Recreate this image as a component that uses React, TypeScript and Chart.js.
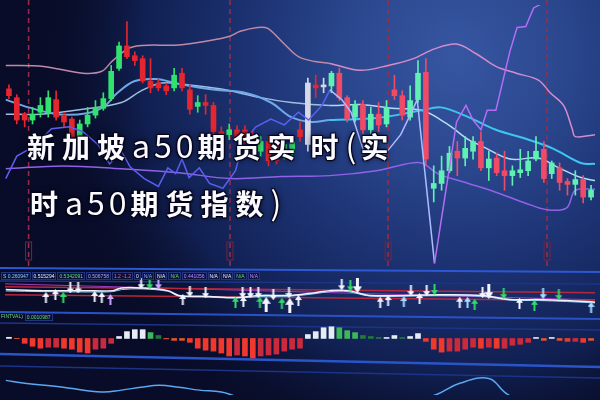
import React, { useEffect, useRef } from 'react';
import { Chart, registerables } from 'chart.js';

Chart.register(...registerables);

const W = 600;
const H = 400;

// ---------- candles (points) ----------
const candleOpen = [
  314, 305, 288, 282, 290, 290, 303, 287, 283, 265,
  278, 287, 294, 304, 335, 358, 348, 345, 322, 320,
  317, 315, 330, 313, 296, 300, 297, 270, 267, 272,
  272, 267, 250, 260, 257, 247, 248, 272, 257, 318,
  316, 317, 330, 305, 285, 298, 272, 288, 278, 313,
  307, 285, 303, 331, 212, 217, 230, 250, 243, 250,
  260, 233, 243, 230, 225, 228, 230, 242, 252, 227,
  233, 219, 216, 221, 203,
];
const candleHigh = [
  318, 308, 290, 295, 305, 312, 312, 290, 285, 282,
  295, 302, 310, 338, 362, 383, 352, 348, 345, 324,
  320, 335, 335, 318, 307, 308, 300, 275, 278, 276,
  276, 272, 265, 265, 262, 262, 265, 280, 325, 328,
  325, 332, 335, 307, 302, 302, 295, 300, 302, 328,
  312, 317, 343, 345, 235, 245, 255, 260, 265, 265,
  270, 250, 248, 250, 235, 252, 250, 265, 260, 240,
  238, 222, 230, 225, 215,
];
const candleLow = [
  304, 278, 275, 278, 285, 285, 282, 275, 262, 262,
  275, 284, 292, 302, 333, 345, 338, 320, 310, 312,
  308, 312, 312, 288, 290, 288, 265, 260, 262, 260,
  258, 252, 245, 235, 237, 242, 242, 260, 250, 305,
  310, 310, 302, 280, 280, 268, 268, 270, 275, 303,
  282, 282, 300, 235, 198, 210, 228, 225, 235, 242,
  230, 220, 225, 210, 215, 223, 225, 240, 218, 222,
  210, 205, 205, 197, 200,
];
const candleClose = [
  307, 282, 282, 288, 297, 305, 285, 280, 265, 278,
  287, 295, 304, 332, 358, 347, 343, 322, 315, 315,
  312, 328, 315, 293, 300, 297, 270, 265, 272, 265,
  263, 257, 260, 240, 240, 257, 260, 265, 320, 315,
  318, 330, 305, 283, 298, 272, 288, 277, 295, 307,
  287, 302, 330, 242, 217, 230, 248, 243, 253, 260,
  233, 242, 228, 225, 230, 231, 240, 250, 222, 238,
  218, 216, 221, 203, 210,
];
const greyCandles = [38, 40];

// ---------- overlay lines on price panel: [candle index, points] ----------
const upperBand: [number, number][] = [
  [-0.4, 338], [4.4, 337], [9.4, 330], [11.8, 332], [13.2, 343], [15.7, 357], [21.6, 359],
  [25.1, 363], [28.1, 368], [29.4, 373], [31.6, 377], [32.9, 376], [35, 360], [36.8, 347],
  [38.9, 342], [40.8, 340], [44.6, 333], [48.2, 338], [51.4, 345], [54.1, 355], [56.9, 360],
  [59.4, 350], [61.9, 337], [64.5, 330], [67.3, 323], [68.8, 310], [70.5, 297], [71.6, 273],
  [72, 265], [74.5, 267],
];
const fastAvg: [number, number][] = [
  [-0.4, 303], [2.5, 295], [6.2, 288], [9.9, 289], [12.1, 296], [13.8, 310], [16, 322],
  [18.7, 324], [21.6, 319], [26.2, 313], [30, 310], [33.3, 300], [35.9, 285], [38.5, 280],
  [40.8, 282], [46.7, 284], [52.5, 292], [54.9, 295], [58.4, 285], [61.9, 272], [65.6, 263],
  [69.1, 253], [72.7, 238], [74.5, 237],
];
const slowAvg: [number, number][] = [
  [-0.4, 288], [4, 288], [9.4, 293], [14.3, 300], [16.8, 312], [19.4, 320], [22.9, 318],
  [26.8, 314], [32, 305], [35.9, 300], [40.8, 297], [44.7, 298], [48.7, 294], [52.5, 292],
  [55.7, 278], [58.4, 262], [60.2, 255], [63.7, 242], [67.3, 243], [69.9, 233], [72.7, 223],
  [74.5, 220],
];
const lowerBand: [number, number][] = [
  [-0.4, 232], [6.9, 235], [14.3, 232], [21.6, 228], [28.1, 222], [34.6, 224], [40.8, 225],
  [46.7, 230], [50.5, 237], [52.5, 238], [54.5, 227], [58.4, 217], [61.9, 208], [65.6, 197],
  [68.4, 190], [70.9, 192], [72, 210], [74.5, 211],
];
const swingLine: [number, number][] = [
  [-0.4, 222], [1, 245], [3.2, 255], [5.4, 273], [7.7, 275], [9.4, 270], [11.3, 257],
  [12.8, 237], [14.3, 250], [15.4, 234], [17.2, 222], [19, 214], [20.2, 233], [21.2, 227],
  [22, 242], [22.9, 223], [24.2, 233], [25.5, 217], [27.2, 212], [28.8, 230], [29.8, 260],
  [31.4, 275], [33.3, 283], [35, 277], [36.8, 290], [38.1, 282], [39.8, 297], [40.8, 313],
  [42.3, 303], [43.5, 290], [45.1, 250], [46.7, 245], [47.8, 247], [49.8, 267], [51, 287],
  [51.9, 303], [54.1, 135], [56.9, 280], [58.1, 297], [59, 282], [60, 272], [60.8, 292],
  [61.9, 292], [63.7, 353], [64.6, 377], [65.7, 378], [66.7, 397], [68.6, 405],
];
const sessionMarks = [2.5, 28.1, 48.2, 68.4];

// ---------- indicator panel ----------
const indX = [-0.4, 4.4, 9.4, 13.2, 14.3, 16.8, 20.2, 21.6, 25.5, 28.8, 32, 35.9, 38.9, 40.8, 43.1, 45.9, 50.6, 54.6, 60.2, 63.7, 67.3, 70.9, 74.5];
const indK = [66, 63, 63, 63, 71, 71, 63, 49, 46, 43, 49, 49, 57, 63, 63, 49, 49, 51, 49, 37, 37, 34, 29];
const indD = [62, 60, 59, 60, 66, 68, 61, 47, 44, 41, 46, 47, 54, 60, 60, 47, 47, 48, 46, 35, 34, 31, 27];
const levelHigh = [74, 57];
const levelLow = [51, 34];
const levelMid = [83, 36];

const arrowX = [4.7, 5.9, 6.9, 7.8, 8.8, 10.9, 11.8, 12.9, 16.8, 17.9, 19, 22.1, 23, 25, 28.8, 29.7, 29.8, 30.7, 31.7, 31.9, 32.7, 33.6, 34.7, 35.6, 35.7, 36.8, 42.3, 43.4, 44.3, 47.2, 48.2, 50.2, 51.1, 52.2, 53.1, 54.1, 57.3, 58.3, 59.2, 60.2, 61, 62.9, 64.9, 66.8, 67.9, 69.9, 74];
const arrowV = [43, 51, 43, 71, 71, 46, 43, 37, 83, 83, 83, 37, 60, 57, 29, 57, 31, 57, 57, 29, 23, 51, 26, 57, 20, 34, 80, 77, 77, 29, 34, 31, 63, 40, 63, 66, 29, 29, 23, 57, 60, 54, 26, 20, 54, 51, 14];
const arrowKind = ['uw', 'uw', 'ug', 'dw', 'dw', 'uw', 'uw', 'up', 'dw', 'dg', 'dp', 'uw', 'dw', 'dw', 'ug', 'dw', 'uw', 'dw', 'dw', 'ug', 'UW', 'dw', 'ug', 'dw', 'UW', 'uw', 'dw', 'dg', 'DW', 'uw', 'uw', 'ub', 'dw', 'uw', 'dw', 'dg', 'uw', 'ub', 'ug', 'dw', 'DW', 'dg', 'uw', 'ug', 'db', 'dg', 'ub'];

// ---------- histogram ----------
const histValues = [
  1.2, -0.3, -5, -8, -10, -9, -9, -10, -11, -14,
  -15, -11, -10, -5, 2, 7, 9, 9, 6, 3,
  -0.5, -2, -2, -4, -10, -12, -13, -15, -18, -17,
  -18, -20, -18, -17, -16, -13, -11, -10, 4, 7,
  11, 12, 11, 8, 6, 3, 2, 1, 1, 3,
  1, 2, 5, -3, -11, -14, -13, -13, -11, -9,
  -10, -9, -10, -10, -7, -6, -4, 1, -2, 1,
  -2, -3, -3, -4, -2,
];

// ---------- bottom curve ----------
const bottomX = [-0.4, 2, 6.9, 11.8, 14.3, 16.8, 19.1, 21.6, 24.2, 27, 29, 31, 50, 54.2, 57.3, 61, 63, 64.5];
const bottomV = [15, 12, 8, 3, 5, 8, 10, 8, 5, 3, -2, -8, -8, 0, 12, 17, 3, -5];

// ---------- labels ----------
const readoutTexts = ['S 0.260947', '0.515294', '0.5342091', '0.506758', '1.2 -1.2', '0', 'N/A', 'N/A', 'N/A', '0.441056', 'N/A', 'N/A', 'N/A', 'N/A'];
const readoutColors = ['#8fd0ff', '#eef2ff', '#5fe06a', '#b9a8ff', '#ff6a6a', '#eef2ff', '#7fa8ff', '#eef2ff', '#5fe06a', '#b98cff', '#eef2ff', '#eef2ff', '#5fe06a', '#b98cff'];
const subReadout = ['FINTVAL)', '0.0010987'];
// title pieces: [text, isLatin]
const titleLine1: [string, boolean][] = [['新加坡', false], ['a50', true], ['期货实', false], ['时', false], ['(', true], ['实', false]];
const titleLine2: [string, boolean][] = [['时', false], ['a50', true], ['期货指数', false], [')', true]];

// maps value range [loVal,hiVal] onto pixel rows [loPx (bottom), hiPx (top)]
function band(loVal: number, hiVal: number, loPx: number, hiPx: number) {
  const k = (hiVal - loVal) / (loPx - hiPx);
  return { min: loVal - (H - loPx) * k, max: hiVal + hiPx * k };
}

const panelRules: [number, number, string, number][] = [
  [268, 272, '#2c58d4', 2],
  [281, 284, '#1b3488', 1.5],
  [312, 319, '#2a52c8', 2],
  [323, 330, '#1b3488', 1.5],
  [354, 367, '#2a55c8', 2.5],
  [366, 378, '#1b3488', 1.5],
];

function makeArrow(color: string, up: boolean, big: boolean) {
  const w = big ? 9 : 7;
  const h = big ? 15 : 11;
  const c = document.createElement('canvas');
  c.width = w;
  c.height = h;
  const g = c.getContext('2d')!;
  g.fillStyle = color;
  const head = Math.round(h * 0.45);
  const s = Math.max(2, Math.round(w * 0.34));
  const a = (w - s) / 2;
  const b = (w + s) / 2;
  g.beginPath();
  if (up) {
    g.moveTo(w / 2, 0); g.lineTo(w, head); g.lineTo(b, head); g.lineTo(b, h);
    g.lineTo(a, h); g.lineTo(a, head); g.lineTo(0, head);
  } else {
    g.moveTo(w / 2, h); g.lineTo(w, h - head); g.lineTo(b, h - head); g.lineTo(b, 0);
    g.lineTo(a, 0); g.lineTo(a, h - head); g.lineTo(0, h - head);
  }
  g.closePath();
  g.fill();
  return c;
}

function candleColor(i: number) {
  if (greyCandles.includes(i)) return '#d6d8e6';
  const right = i >= 41;
  if (candleClose[i] >= candleOpen[i]) return right ? '#5ff0b2' : '#31e36e';
  return right ? '#ef4a66' : '#e3262f';
}

function histColor(i: number) {
  const v = histValues[i];
  const prev = i > 0 ? histValues[i - 1] : 0;
  if (v >= 0) {
    if (v >= prev) return '#e6ecf4';
    return v >= 4 ? '#3bb85a' : '#217a3c';
  }
  if (v > -3) return '#e0552a';
  return v < prev ? '#f0382c' : '#c92a3c';
}

const pairs = (arr: [number, number][]) => arr.map(([x, y]) => ({ x, y }));

export default function App() {
  const ref = useRef<HTMLCanvasElement | null>(null);

  useEffect(() => {
    if (!ref.current) return;
    const col = { w: '#f2f4ff', g: '#35d86a', p: '#caa6ff', b: '#a6dcff' } as Record<string, string>;
    const arrows: Record<string, HTMLCanvasElement> = {};
    for (const k of ['w', 'g', 'p', 'b']) {
      arrows['u' + k] = makeArrow(col[k], true, false);
      arrows['d' + k] = makeArrow(col[k], false, false);
      arrows['U' + k.toUpperCase()] = makeArrow(col[k], true, true);
      arrows['D' + k.toUpperCase()] = makeArrow(col[k], false, true);
    }

    const idx = candleOpen.map((_, i) => i);

    const backdrop = {
      id: 'backdrop',
      beforeDraw(chart: any) {
        const { ctx, width, height } = chart;
        ctx.save();
        ctx.fillStyle = '#080c28';
        ctx.fillRect(0, 0, width, height);
        const cx = width * 0.76, cy = height * 0.14, r = width * 0.7;
        const g = ctx.createRadialGradient(cx, cy, 0, cx, cy, r);
        g.addColorStop(0, '#3756a2');
        g.addColorStop(0.25, '#2b488f');
        g.addColorStop(0.5, '#1c3272');
        g.addColorStop(0.75, '#112052');
        g.addColorStop(1, 'rgba(8,12,40,0)');
        ctx.fillStyle = g;
        ctx.fillRect(0, 0, width, height);
        ctx.restore();
      },
      beforeDatasetsDraw(chart: any) {
        const { ctx, width } = chart;
        const x = chart.scales.x;
        ctx.save();
        for (const [yl, yr, c, lw] of panelRules) {
          ctx.strokeStyle = c;
          ctx.lineWidth = lw;
          ctx.beginPath();
          ctx.moveTo(0, yl);
          ctx.lineTo(width, yr);
          ctx.stroke();
        }
        ctx.strokeStyle = '#9a2d48';
        ctx.lineWidth = 1.5;
        ctx.setLineDash([5, 4]);
        for (const m of sessionMarks) {
          const px = x.getPixelForValue(m);
          ctx.beginPath();
          ctx.moveTo(px, 0);
          ctx.lineTo(px, 266);
          ctx.stroke();
        }
        ctx.setLineDash([]);
        ctx.lineWidth = 1;
        ctx.strokeStyle = '#7a2438';
        for (const m of sessionMarks) {
          const px = x.getPixelForValue(m);
          ctx.strokeRect(px - 3, 242, 6, 18);
        }
        ctx.restore();
      },
    };

    const line = (data: any[], color: any, width: number, yAxisID: string, order: number, tension = 0.35) => ({
      type: 'line' as const,
      data,
      borderColor: typeof color === 'string' ? color : undefined,
      segment: typeof color === 'function' ? { borderColor: color } : undefined,
      borderWidth: width,
      pointRadius: 0,
      tension,
      fill: false,
      yAxisID,
      order,
    });

    const chart = new Chart(ref.current, {
      type: 'bar',
      data: {
        datasets: [
          line(pairs(swingLine), (c: any) => (c.p0.parsed.x >= 52 ? '#b56cf7' : c.p0.parsed.x >= 40 ? '#aebcff' : '#5c60f2'), 1.5, 'yP', 1, 0),
          {
            type: 'bar',
            data: idx.map((i) => ({ x: i, y: [candleOpen[i], candleClose[i]] })),
            backgroundColor: idx.map(candleColor),
            barThickness: 5,
            grouped: false,
            yAxisID: 'yP',
            order: 2,
          },
          {
            type: 'bar',
            data: idx.map((i) => ({ x: i, y: [candleLow[i], candleHigh[i]] })),
            backgroundColor: idx.map(candleColor),
            barThickness: 1,
            grouped: false,
            yAxisID: 'yP',
            order: 3,
          },
          line(pairs(upperBand), (c: any) => (c.p0.parsed.x >= 40 ? '#d58ccb' : '#bf8aa6'), 1.5, 'yP', 4),
          line(pairs(fastAvg), (c: any) => (c.p0.parsed.x >= 40 ? '#3cc6f0' : '#6fa8e8'), 2, 'yP', 4),
          line(pairs(slowAvg), (c: any) => (c.p0.parsed.x >= 40 ? '#b4dcf6' : '#9fc0e0'), 1.5, 'yP', 4),
          line(pairs(lowerBand), '#9062e8', 1.5, 'yP', 4),
          {
            type: 'scatter',
            data: arrowX.map((x, i) => ({ x, y: arrowV[i] })),
            pointStyle: (c: any) => arrows[arrowKind[c.dataIndex]] || 'circle',
            pointRadius: 4,
            yAxisID: 'yI',
            order: 5,
          },
          line(indX.map((x, i) => ({ x, y: indK[i] })), '#eef3ff', 1.5, 'yI', 6),
          line(indX.map((x, i) => ({ x, y: indD[i] })), '#7fd4f5', 1, 'yI', 6),
          line([{ x: -0.5, y: levelHigh[0] }, { x: 74.5, y: levelHigh[1] }], '#b8283a', 1.5, 'yI', 7, 0),
          line([{ x: -0.5, y: levelLow[0] }, { x: 74.5, y: levelLow[1] }], '#b8283a', 1.5, 'yI', 7, 0),
          line([{ x: -0.5, y: levelMid[0] }, { x: 74.5, y: levelMid[1] }], '#a03cc0', 1, 'yI', 7, 0),
          {
            type: 'bar',
            data: idx.map((i) => ({ x: i, y: histValues[i] })),
            backgroundColor: idx.map(histColor),
            barThickness: 5,
            grouped: false,
            yAxisID: 'yH',
            order: 8,
          },
          line(bottomX.map((x, i) => ({ x, y: bottomV[i] })), '#5aa8f0', 1.5, 'yB', 9, 0.4),
        ] as any,
      },
      options: {
        responsive: false,
        animation: false,
        events: [],
        layout: { padding: 0 },
        plugins: { legend: { display: false }, tooltip: { enabled: false }, title: { display: false } },
        scales: {
          x: { type: 'linear', min: -0.5, max: 74.5, offset: false, display: false, grid: { offset: false } },
          yP: { type: 'linear', display: false, ...band(0, 400, 400, 0) },
          yI: { type: 'linear', display: false, ...band(0, 100, 315, 280) },
          yH: { type: 'linear', display: false, ...band(-20, 12, 362, 330) },
          yB: { type: 'linear', display: false, ...band(0, 20, 400, 380) },
        },
      } as any,
      plugins: [backdrop],
    });
    return () => chart.destroy();
  }, []);

  const titleStyle: React.CSSProperties = {
    position: 'absolute',
    fontFamily: '"Noto Sans CJK SC", sans-serif',
    fontWeight: 'bold',
    fontSize: 28,
    lineHeight: '30px',
    letterSpacing: 7,
    color: '#fbfbff',
    whiteSpace: 'nowrap',
    textShadow:
      '1px 1px 1px #05051a, -1px -1px 1px #05051a, 1px -1px 1px #05051a, -1px 1px 1px #05051a, 0 0 6px rgba(0,0,20,0.95)',
  };
  const latin: React.CSSProperties = { fontSize: 32, fontWeight: 'normal', letterSpacing: 4 };
  const small: React.CSSProperties = {
    fontFamily: '"Liberation Sans", sans-serif',
    fontSize: 5,
    lineHeight: '6px',
    border: '1px solid #22347c',
    background: 'rgba(10,18,60,0.8)',
    padding: '0 1px',
    whiteSpace: 'nowrap',
  };

  return (
    <div style={{ position: 'fixed', left: 0, top: 0, width: W, height: H, overflow: 'hidden', background: '#080c28' }}>
      <canvas ref={ref} width={W} height={H} style={{ position: 'absolute', left: 0, top: 0, width: W, height: H }} />
      <div style={{ position: 'absolute', left: 1, top: 272, display: 'flex', gap: 1 }}>
        {readoutTexts.map((t, i) => (
          <span key={i} style={{ ...small, color: readoutColors[i] }}>{t}</span>
        ))}
      </div>
      <div style={{ position: 'absolute', left: 0, top: 313, display: 'flex', gap: 1 }}>
        <span style={{ ...small, color: '#6fdc6f', border: 'none', background: 'none' }}>{subReadout[0]}</span>
        <span style={{ ...small, color: '#6fdc6f' }}>{subReadout[1]}</span>
      </div>
      <div style={{ ...titleStyle, left: 27, top: 129 }}>
        {titleLine1.map(([t, lat], i) => (
          <span key={i} style={{ ...(lat ? latin : {}), marginLeft: i === 3 ? 8 : 0 }}>{t}</span>
        ))}
      </div>
      <div style={{ ...titleStyle, left: 30, top: 186 }}>
        {titleLine2.map(([t, lat], i) => (
          <span key={i} style={lat ? latin : undefined}>{t}</span>
        ))}
      </div>
    </div>
  );
}
